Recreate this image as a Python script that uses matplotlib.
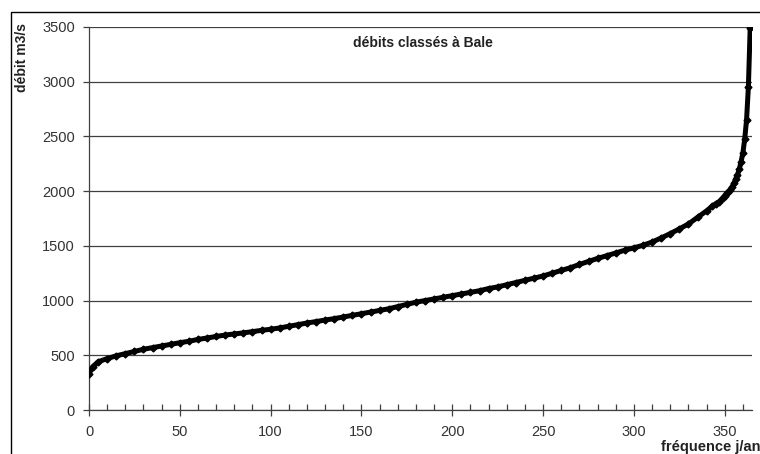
import matplotlib.pyplot as plt
from matplotlib.patches import Rectangle

plt.rcParams['font.family'] = ['Liberation Sans', 'DejaVu Sans']

# jours (fréquence j/an) et débits classés (m3/s)
jours = [0, 2, 5, 10, 15, 20, 25, 30, 35, 40, 45, 50, 55, 60, 65, 70, 75, 80, 85, 90,
         95, 100, 105, 110, 115, 120, 125, 130, 135, 140, 145, 150, 155, 160, 165, 170,
         175, 180, 185, 190, 195, 200, 205, 210, 215, 220, 225, 230, 235, 240, 245, 250,
         255, 260, 265, 270, 275, 280, 285, 290, 295, 300, 305, 310, 315, 320, 325, 330,
         335, 340, 343, 345, 347, 349, 350, 351, 352, 353, 354, 355, 356, 357, 358, 359,
         360, 361, 362, 363, 364]
debits = [330, 395, 440, 470, 495, 515, 535, 555, 570, 585, 600, 615, 628, 645, 658, 672,
          685, 695, 705, 716, 728, 738, 750, 765, 780, 795, 808, 822, 835, 850, 865, 880,
          895, 910, 925, 945, 965, 985, 1000, 1015, 1030, 1045, 1060, 1075, 1090, 1110,
          1125, 1145, 1165, 1185, 1205, 1225, 1250, 1275, 1300, 1330, 1358, 1385, 1410,
          1435, 1460, 1482, 1505, 1535, 1572, 1612, 1655, 1700, 1760, 1820, 1860, 1885,
          1905, 1940, 1960, 1980, 1995, 2015, 2040, 2070, 2110, 2150, 2200, 2270,
          2350, 2480, 2650, 2950, 3490]

fig = plt.figure(figsize=(7.6, 4.54), dpi=100)
ax = fig.add_axes([89/760, 44/454, 663/760, 383/454])

ax.plot(jours, debits, color='black', lw=3.6, marker='D', markersize=3.5,
        solid_capstyle='round', solid_joinstyle='round', zorder=3)

ax.set_xlim(0, 365)
ax.set_ylim(0, 3500)
ax.set_xticks(range(0, 351, 50))
ax.set_xticks(range(0, 366, 10), minor=True)
ax.set_yticks(range(0, 3501, 500))
ax.yaxis.grid(True, color='#404040', lw=0.9)
ax.set_axisbelow(True)

for s in ['top', 'right']:
    ax.spines[s].set_visible(False)
for s in ['left', 'bottom']:
    ax.spines[s].set_color('#404040')
    ax.spines[s].set_linewidth(0.9)

ax.tick_params(axis='x', which='major', direction='inout', length=8, width=0.9,
               color='#404040', pad=7, labelsize=10.5, labelcolor='#333333')
ax.tick_params(axis='x', which='minor', direction='in', length=4, width=0.9,
               color='#404040')
ax.tick_params(axis='y', direction='out', length=4.5, width=0.9, color='#404040',
               pad=5.5, labelsize=10.5, labelcolor='#333333')

fig.text(353/760, 1 - 43/454, 'débits classés à Bale', fontsize=10,
         fontweight='bold', color='#222222', ha='left', va='center')
fig.text(22/760, 1 - 57/454, 'débit m3/s', rotation=90, fontsize=10,
         fontweight='bold', color='#222222', ha='center', va='center')
fig.text(661/760, 3/454, 'fréquence j/an', fontsize=10.5, fontweight='bold',
         color='#222222', ha='left', va='baseline')

# cadre extérieur
fig.patches.append(Rectangle((11/760, -0.1), 1.0, 1.1 - 12/454, transform=fig.transFigure,
                             fill=False, edgecolor='black', lw=1))

fig.savefig('out.png', dpi=100)
